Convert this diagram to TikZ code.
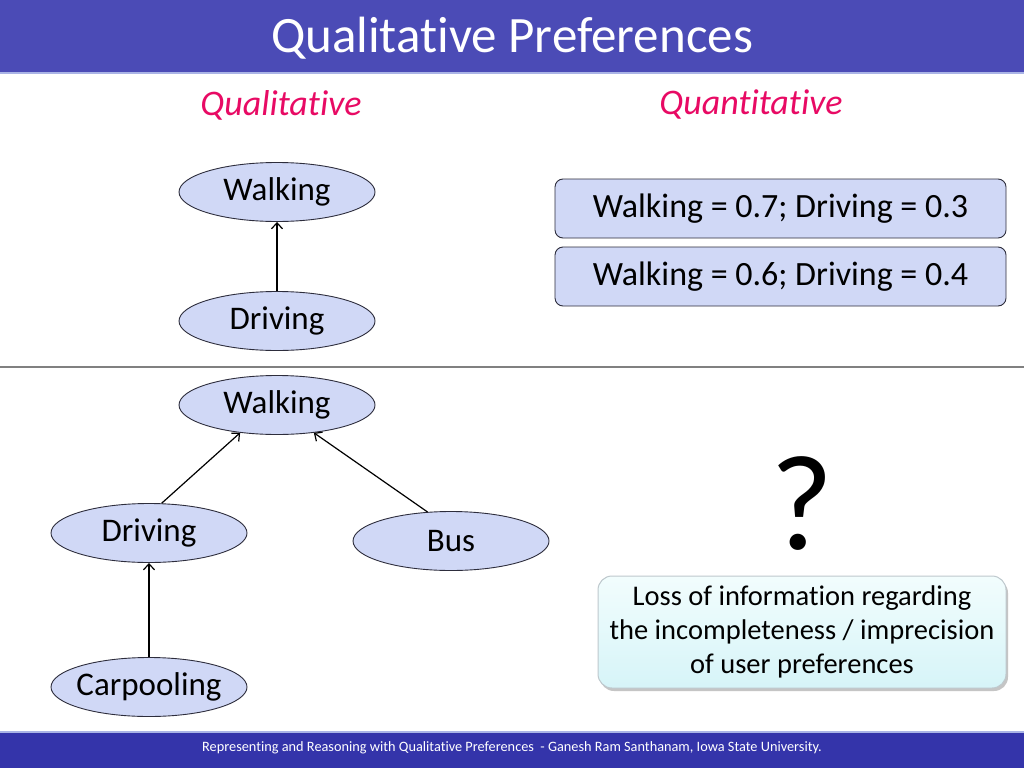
\documentclass[tikz,border=0pt]{standalone}
\usepackage{fontspec}
\setmainfont[Ligatures=NoCommon, RawFeature={-clig;-dlig;-liga}]{Carlito}
\usetikzlibrary{arrows.meta,shapes.geometric,shadows}
\definecolor{titlebar}{RGB}{75,75,182}
\definecolor{footbar}{RGB}{52,52,170}
\definecolor{barline}{RGB}{170,180,230}
\definecolor{subpink}{RGB}{232,10,100}
\definecolor{nodefill}{RGB}{208,216,246}
\definecolor{nodeedge}{RGB}{45,45,60}
\definecolor{divgray}{RGB}{128,128,128}
\definecolor{infotop}{RGB}{242,253,253}
\definecolor{infobot}{RGB}{214,244,248}
\definecolor{infoedge}{RGB}{190,200,205}
\newcommand{\fixlbl}[1]{\makebox[110pt]{#1}}
\begin{document}
\begin{tikzpicture}[x=1pt,y=-1pt,
  pref/.style={ellipse, draw=nodeedge, fill=nodefill, line width=0.9pt,
    minimum width=196pt, minimum height=59pt, inner sep=0pt,
    font=\fontsize{33}{38}\selectfont},
  valbox/.style={rectangle, rounded corners=8pt, draw=nodeedge, fill=nodefill,
    line width=0.9pt, minimum width=451pt, minimum height=59pt, inner sep=0pt,
    font=\fontsize{34}{40}\selectfont},
  infobox/.style={rectangle, rounded corners=14pt, draw=infoedge, line width=1pt,
    top color=infotop, bottom color=infobot,
    drop shadow={shadow xshift=2pt, shadow yshift=-3pt, fill=black!45, opacity=0.5},
    minimum width=408pt, minimum height=112pt, inner sep=0pt, align=center,
    font=\fontsize{28.5}{34}\selectfont},
  arr/.style={-{Straight Barb[length=6pt,width=11pt]}, line width=1.2pt},
  subtitle/.style={text=subpink, font=\fontsize{36}{40}\selectfont\itshape},
]
\useasboundingbox (0,0) rectangle (1024,768);
\fill[white] (0,0) rectangle (1024,768);
% title bar
\fill[titlebar] (0,0) rectangle (1024,72);
\fill[barline] (0,72) rectangle (1024,74);
\node[text=white, font=\fontsize{51}{56}\selectfont] (title) at (512,38) {Qualitative Preferences};
% footer
\fill[barline] (0,731) rectangle (1024,733);
\fill[footbar] (0,733) rectangle (1024,768);
\node[text=white, font=\fontsize{14.3}{16}\selectfont] (foot) at (512,748)
  {Representing and Reasoning with Qualitative Preferences \ - Ganesh Ram Santhanam, Iowa State University.};
% subtitles
\node[subtitle] (qual) at (281,105) {Qualitative};
\node[subtitle] (quan) at (751,105) {Quantitative};
% upper qualitative graph
\node[pref] (w1) at (277,192) {\fixlbl{Walking}};
\node[pref] (d1) at (277,321) {\fixlbl{Driving}};
\draw[arr] (d1) -- (w1);
% quantitative boxes
\node[valbox] (v1) at (780.5,208.5) {Walking = 0.7; Driving = 0.3};
\node[valbox] (v2) at (780.5,276.5) {Walking = 0.6; Driving = 0.4};
% divider
\coordinate (dl) at (0,367);
\coordinate (dr) at (1024,367);
\draw[divgray, line width=2pt] (dl) -- (dr);
% lower graph
\node[pref] (w2) at (277,405) {\fixlbl{Walking}};
\node[pref] (d2) at (149,533) {\fixlbl{Driving}};
\node[pref] (b2) at (451,541) {\fixlbl{Bus}};
\node[pref] (c2) at (149,687) {\fixlbl{Carpooling}};
\draw[arr] (d2.67) -- (w2.217);
\draw[arr] (b2.129) -- (w2.323);
\draw[arr] (c2) -- (d2);
% question mark and info
\node[font=\fontsize{136}{150}\selectfont] (q) at (802,504) {?};
\node[infobox] (info) at (802,632) {Loss of information regarding\\the incompleteness / imprecision\\of user preferences};
\end{tikzpicture}
\end{document}
